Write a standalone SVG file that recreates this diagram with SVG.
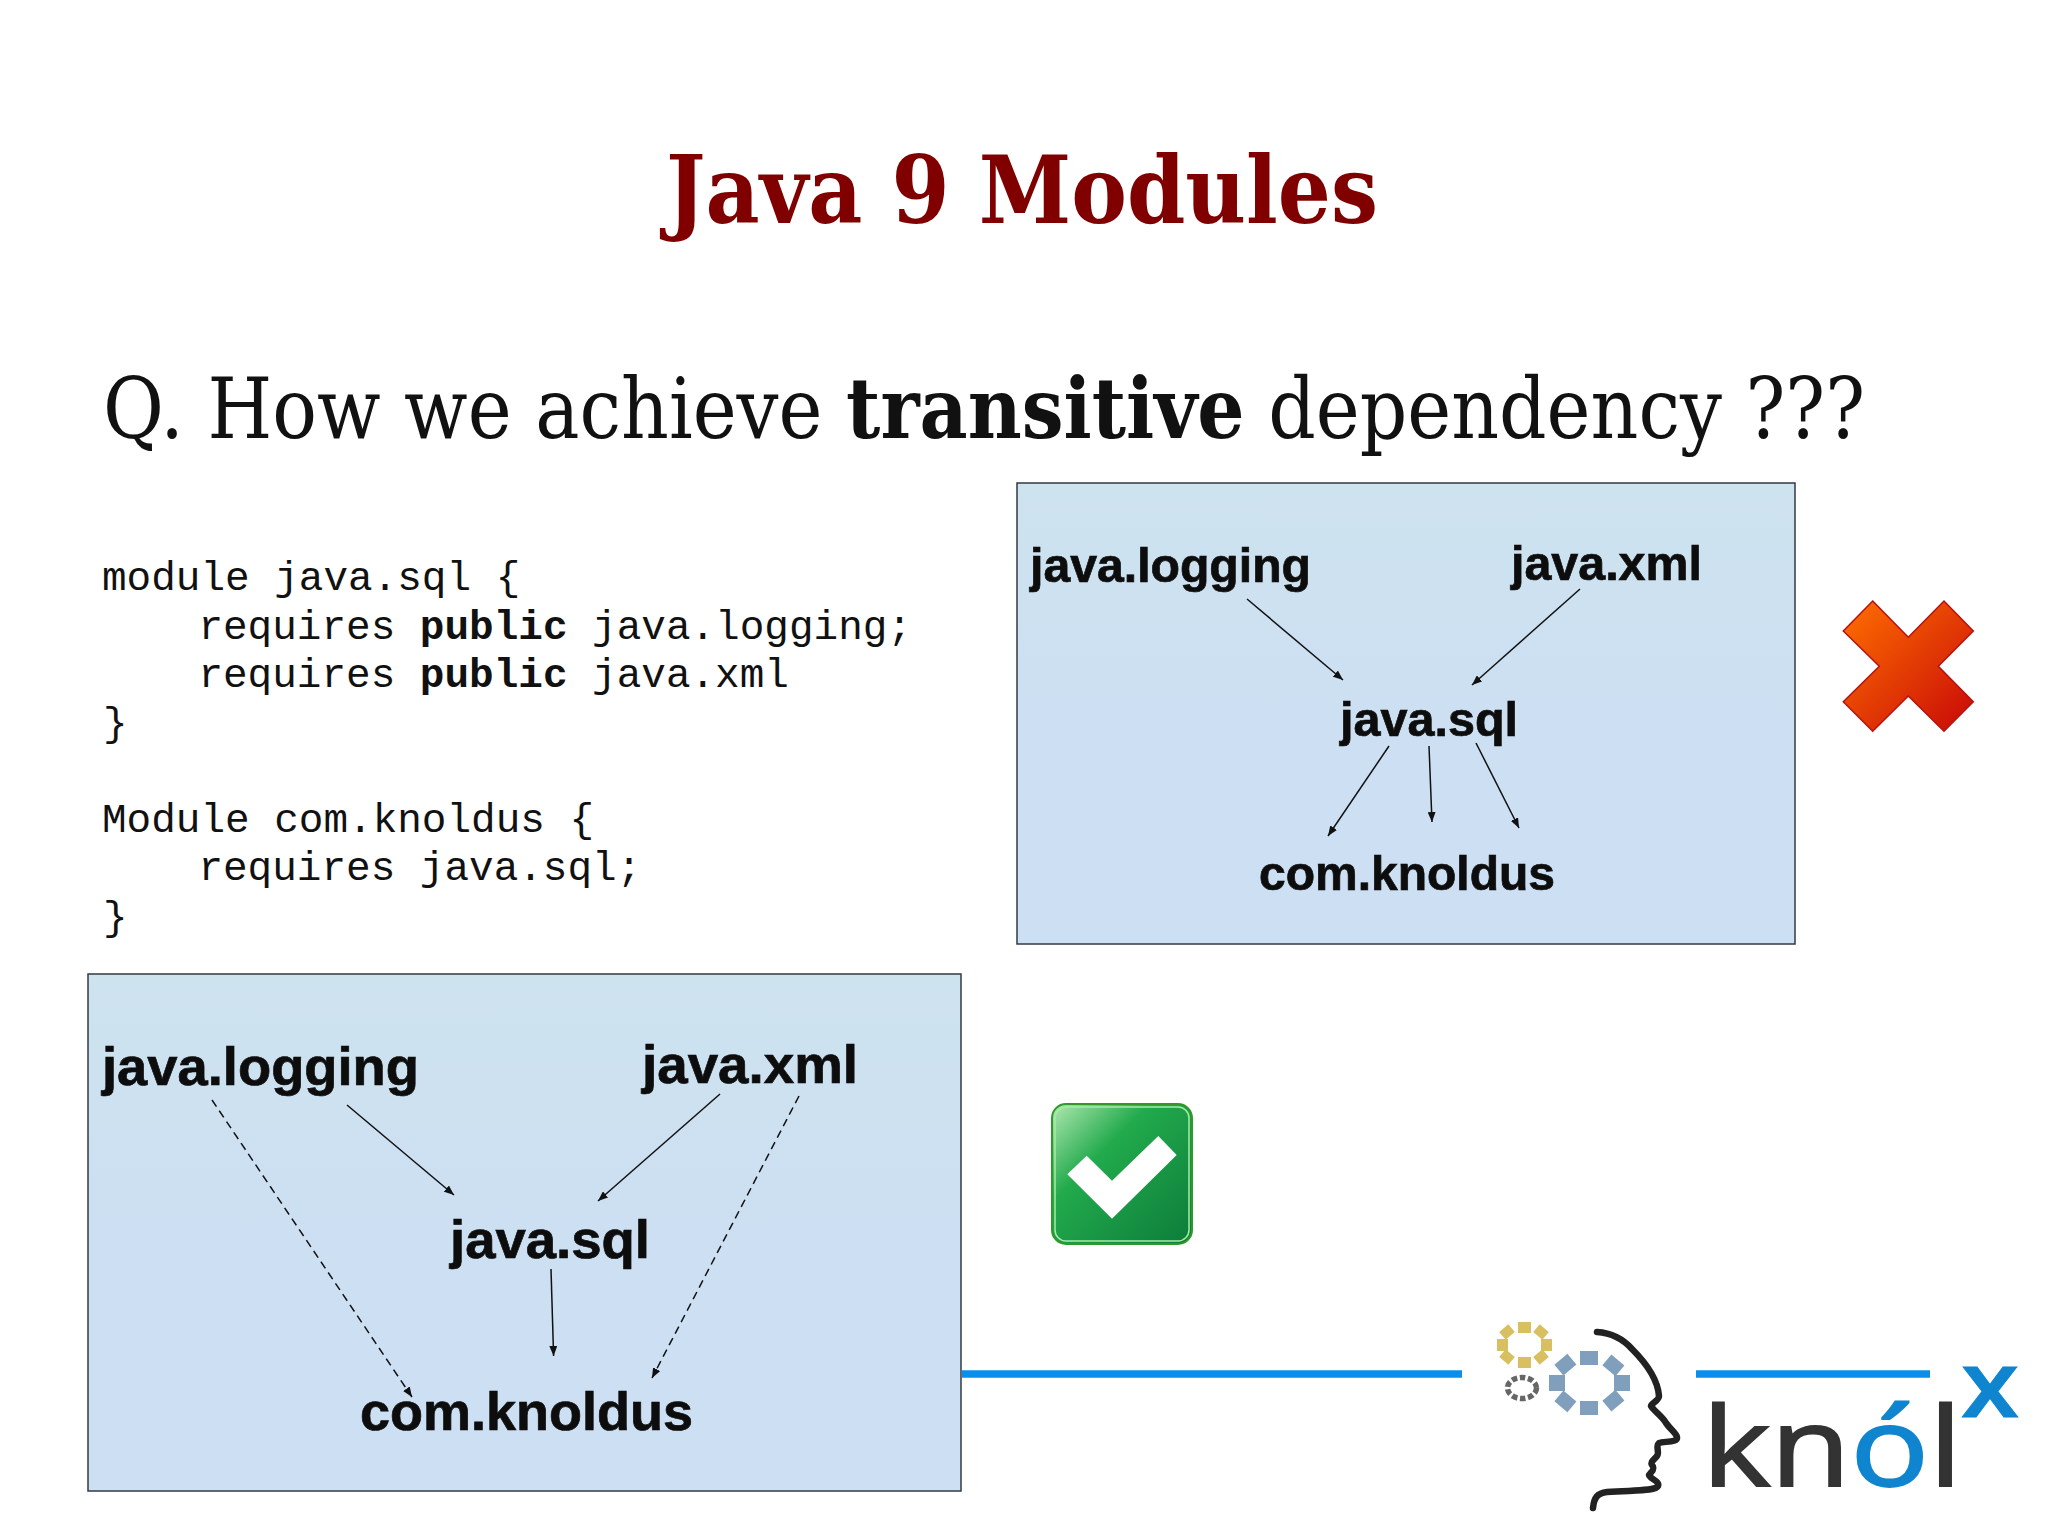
<svg xmlns="http://www.w3.org/2000/svg" width="2048" height="1535" viewBox="0 0 2048 1535">
<style>
.title{font-family:"DejaVu Serif",serif;font-weight:700;font-size:93px;fill:#800000}
.q{font-family:"DejaVu Serif",serif;font-size:85px;fill:#111}
.code{font-family:"Liberation Mono",monospace;font-size:41px;fill:#111;white-space:pre}
.code .b{font-weight:700}
.lbl{font-family:"Liberation Sans",Arial,sans-serif;font-weight:700;fill:#0a0a0a;stroke:#0a0a0a;stroke-width:.7;filter:url(#soft)}
.box{stroke:#333a44;stroke-width:1.5;fill:url(#boxg)}
.arr{stroke:#111;stroke-width:1.5;fill:none;marker-end:url(#ah)}
.dash{stroke-dasharray:8 5}
.rule{stroke:#0b8eea;stroke-width:7.5}
.logo{font-family:"Open Sans",sans-serif}
</style>
<defs>
<filter id="soft" x="-5%" y="-20%" width="110%" height="140%"><feGaussianBlur stdDeviation=".6"/></filter>
<linearGradient id="boxg" x1="0" y1="0" x2="0" y2="1"><stop offset="0" stop-color="#cde3ee"/><stop offset=".4" stop-color="#cde0f2"/><stop offset="1" stop-color="#cddff3"/></linearGradient>
<linearGradient id="xg" x1="0" y1="0" x2="1" y2="1"><stop offset="0" stop-color="#ff7000"/><stop offset="1" stop-color="#c80808"/></linearGradient>
<linearGradient id="cg" x1="0" y1="0" x2="1" y2="1"><stop offset="0" stop-color="#b0e8b0"/><stop offset=".35" stop-color="#22aa4c"/><stop offset="1" stop-color="#0c7c3a"/></linearGradient>
<marker id="ah" markerUnits="userSpaceOnUse" viewBox="0 0 10 8" markerWidth="10" markerHeight="8" refX="10" refY="4" orient="auto"><path d="M0 0L10 4L0 8Z" fill="#111"/></marker>
</defs>
<rect width="2048" height="1535" fill="#fff"/>
<text class="title" x="666" y="223" textLength="712" lengthAdjust="spacingAndGlyphs">Java 9 Modules</text>
<text class="q" x="103" y="438" textLength="1762" lengthAdjust="spacingAndGlyphs">Q. How we achieve <tspan font-weight="700">transitive</tspan> dependency ???</text>
<g id="code">
<text class="code" x="102" y="590">module java.sql {</text>
<text class="code" x="100" y="639" xml:space="preserve">    requires <tspan class="b">public</tspan> java.logging;</text>
<text class="code" x="100" y="687" xml:space="preserve">    requires <tspan class="b">public</tspan> java.xml</text>
<text class="code" x="103" y="736">}</text>
<text class="code" x="102" y="832">Module com.knoldus {</text>
<text class="code" x="100" y="880" xml:space="preserve">    requires java.sql;</text>
<text class="code" x="103" y="930">}</text>
</g>
<g id="wrong-diagram">
<rect class="box" x="1017" y="483" width="778" height="461"/>
<g id="w-logging"><text class="lbl" x="1030" y="582" font-size="48" textLength="281" lengthAdjust="spacingAndGlyphs">java.logging</text></g>
<g id="w-xml"><text class="lbl" x="1511" y="580" font-size="48" textLength="191" lengthAdjust="spacingAndGlyphs">java.xml</text></g>
<g id="w-sql"><text class="lbl" x="1340" y="736" font-size="48" textLength="178" lengthAdjust="spacingAndGlyphs">java.sql</text></g>
<g id="w-knoldus"><text class="lbl" x="1259" y="890" font-size="48" textLength="296" lengthAdjust="spacingAndGlyphs">com.knoldus</text></g>
<g id="w-connectors">
<line class="arr" x1="1247" y1="599" x2="1343" y2="680"/>
<line class="arr" x1="1580" y1="589" x2="1472" y2="685"/>
<line class="arr" x1="1389" y1="746" x2="1328" y2="836"/>
<line class="arr" x1="1429" y1="746" x2="1432" y2="822"/>
<line class="arr" x1="1476" y1="743" x2="1519" y2="828"/>
</g>
</g>
<g id="cross"><path d="M1872.7 601L1908.3 637.3L1944 601L1973.3 631L1938.3 666.3L1973.3 701.7L1944 731.3L1908.3 696L1872.7 731.3L1843.3 701.7L1879.3 666.3L1843.3 631Z" fill="url(#xg)" stroke="#b81010" stroke-width="1.5"/></g>
<g id="rules">
<line class="rule" x1="962" y1="1374" x2="1462" y2="1374"/>
<line class="rule" x1="1696" y1="1374" x2="1930" y2="1374"/>
</g>
<g id="right-diagram">
<rect class="box" x="88" y="974" width="873" height="517"/>
<g id="r-logging"><text class="lbl" x="102" y="1085" font-size="53.7" textLength="317" lengthAdjust="spacingAndGlyphs">java.logging</text></g>
<g id="r-xml"><text class="lbl" x="642" y="1083" font-size="53.7" textLength="216" lengthAdjust="spacingAndGlyphs">java.xml</text></g>
<g id="r-sql"><text class="lbl" x="450" y="1258" font-size="53.7" textLength="200" lengthAdjust="spacingAndGlyphs">java.sql</text></g>
<g id="r-knoldus"><text class="lbl" x="360" y="1430" font-size="53.7" textLength="333" lengthAdjust="spacingAndGlyphs">com.knoldus</text></g>
<g id="r-connectors">
<line class="arr dash" x1="212" y1="1100" x2="412" y2="1397"/>
<line class="arr" x1="347" y1="1105" x2="454" y2="1195"/>
<line class="arr" x1="720" y1="1094" x2="598" y2="1201"/>
<line class="arr dash" x1="799" y1="1096" x2="652" y2="1378"/>
<line class="arr" x1="551" y1="1269" x2="553.6" y2="1356"/>
</g>
</g>
<g id="check">
<rect x="1052" y="1104" width="140" height="140" rx="14" fill="url(#cg)" stroke="#2f9a2a" stroke-width="2"/>
<rect x="1055" y="1107" width="134" height="134" rx="11" fill="none" stroke="#a6eaa6" stroke-width="1.5"/>
<path d="M1067.3 1174.3L1086.7 1155.7L1112 1180.7L1158.3 1136L1176.7 1155L1112 1218.7Z" fill="#fff"/>
</g>
<g id="logo">
<g id="gold" fill="#d8c060">
<rect x="1518" y="1322" width="13" height="11"/><rect x="1518" y="1357" width="13" height="11"/><rect x="1497" y="1339" width="11" height="12"/><rect x="1541" y="1339" width="11" height="12"/>
<rect x="1501" y="1327" width="12" height="10" transform="rotate(-40 1507 1332)"/><rect x="1535" y="1327" width="12" height="10" transform="rotate(40 1541 1332)"/><rect x="1501" y="1352" width="12" height="10" transform="rotate(40 1507 1357)"/><rect x="1535" y="1352" width="12" height="10" transform="rotate(-40 1541 1357)"/>
</g>
<g id="steel" fill="#7f9fbc">
<rect x="1580" y="1351" width="18" height="14"/><rect x="1580" y="1401" width="18" height="14"/><rect x="1549" y="1375" width="16" height="16"/><rect x="1614" y="1375" width="16" height="16"/>
<rect x="1557" y="1358" width="17" height="14" transform="rotate(-40 1565 1365)"/><rect x="1605" y="1358" width="17" height="14" transform="rotate(40 1613 1365)"/><rect x="1557" y="1394" width="17" height="14" transform="rotate(40 1565 1401)"/><rect x="1605" y="1394" width="17" height="14" transform="rotate(-40 1613 1401)"/>
</g>
<ellipse cx="1522" cy="1388" rx="14.5" ry="10.5" fill="none" stroke="#666" stroke-width="5.5" stroke-dasharray="5.5 2.6"/>
<path id="head" d="M1597 1332C1612 1333 1624 1340 1632 1349C1648 1365 1658 1382 1659 1396C1659 1401 1651 1403 1651 1406C1655 1412 1662 1416 1666 1423C1671 1430 1676 1433 1677 1437C1678 1443 1664 1441 1659 1443C1655 1446 1660 1452 1657 1456C1654 1460 1650 1462 1652 1465C1656 1469 1651 1472 1649 1475C1650 1479 1660 1481 1658 1486C1655 1491 1640 1490 1607 1492C1597 1493 1594 1498 1593 1508" fill="none" stroke="#222" stroke-width="6.5" stroke-linecap="round" stroke-linejoin="round"/>
<text class="logo" x="1702" y="1486" font-size="110" fill="#333" stroke="#333" stroke-width="2" textLength="260" lengthAdjust="spacingAndGlyphs">kn<tspan fill="#0f85d0" stroke="#0f85d0">ó</tspan>l</text>
<text class="logo" x="1961" y="1417" font-size="93" font-weight="600" fill="#0f85d0" stroke="#0f85d0" textLength="58" lengthAdjust="spacingAndGlyphs">x</text>
</g>
</svg>
